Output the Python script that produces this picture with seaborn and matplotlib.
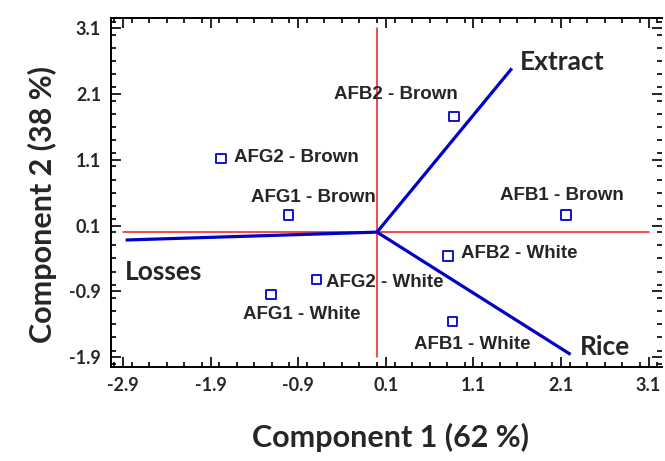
import numpy as np
import pandas as pd
import seaborn as sns
import matplotlib.pyplot as plt
from matplotlib.ticker import MultipleLocator, FormatStrFormatter

# scores of the samples
samples = ['AFB2 - Brown', 'AFG2 - Brown', 'AFG1 - Brown', 'AFB1 - Brown',
           'AFB2 - White', 'AFG2 - White', 'AFG1 - White', 'AFB1 - White']
comp1 = [0.88, -1.78, -1.01, 2.16, 0.81, -0.69, -1.21, 0.86]
comp2 = [1.76, 1.12, 0.26, 0.26, -0.36, -0.72, -0.95, -1.36]

# loadings of the variables
variables = ['Extract', 'Rice', 'Losses']
load1 = [1.54, 2.21, -2.87]
load2 = [2.49, -1.86, -0.12]

xticks = [-2.9, -1.9, -0.9, 0.1, 1.1, 2.1, 3.1]
yticks = [-1.9, -0.9, 0.1, 1.1, 2.1, 3.1]

# label offsets (pixels) and alignment
sample_offsets = [(-58, 22, 'center'), (13, 1, 'left'), (25, 18, 'center'),
                  (-4, 20, 'center'), (13, 2, 'left'), (9, -3, 'left'),
                  (31, -20, 'center'), (20, -23, 'center')]
var_offsets = [(8, 6, 'left'), (9, 7, 'left'), (-1, -32, 'left')]

blue = '#0000C8'
red = '#F01818'

sns.set_style('ticks')
plt.rcParams['font.family'] = ['Lato', 'DejaVu Sans']

df = pd.DataFrame({'sample': samples, 'c1': comp1, 'c2': comp2})

fig = plt.figure(figsize=(6.65, 4.61), dpi=100)
ax = fig.add_axes([0.1665, 0.204, 0.8285, 0.7576])

# reference axes through the origin
ax.plot([xticks[0], xticks[-1]], [0, 0], color=red, lw=1.1, zorder=1)
ax.plot([0, 0], [yticks[0], yticks[-1]], color=red, lw=1.1, zorder=1)

# variable vectors
for vx, vy in zip(load1, load2):
    ax.plot([0, vx], [0, vy], color=blue, lw=2.3, zorder=2,
            solid_capstyle='butt')

sns.scatterplot(data=df, x='c1', y='c2', marker='s', s=48,
                facecolors='none', edgecolor=blue, linewidth=1.3,
                ax=ax, zorder=3)

for name, x, y, (dx, dy, ha) in zip(samples, comp1, comp2, sample_offsets):
    ax.annotate(name, (x, y), xytext=(dx, dy), textcoords='offset pixels',
                ha=ha, va='center', fontsize=13.5, fontweight='bold',
                family='Liberation Sans')

for name, x, y, (dx, dy, ha) in zip(variables, load1, load2, var_offsets):
    ax.annotate(name, (x, y), xytext=(dx, dy), textcoords='offset pixels',
                ha=ha, va='center', fontsize=19, fontweight='bold')

ax.set_xlim(-3.04, 3.25)
ax.set_ylim(-2.05, 3.26)
ax.set_xticks(xticks)
ax.set_yticks(yticks)
ax.xaxis.set_minor_locator(MultipleLocator(0.2))
ax.yaxis.set_minor_locator(MultipleLocator(0.2))
ax.xaxis.set_major_formatter(FormatStrFormatter('%.1f'))
ax.yaxis.set_major_formatter(FormatStrFormatter('%.1f'))
ax.tick_params(which='both', direction='in', top=True, right=True,
               width=1.2, color='black')
ax.tick_params(which='major', length=7, labelsize=13, pad=7)
ax.tick_params(which='minor', length=3.5)
for lab in ax.get_xticklabels() + ax.get_yticklabels():
    lab.set_fontweight('bold')

for side in ['left', 'bottom', 'top']:
    ax.spines[side].set_linewidth(1.4)
    ax.spines[side].set_color('black')
ax.spines['right'].set_visible(False)

ax.set_xlabel('Component 1 (62 %)', fontsize=22, fontweight='bold')
ax.set_ylabel('Component 2 (38 %)', fontsize=22, fontweight='bold')
ax.xaxis.set_label_coords(0.507, -0.16)
ax.yaxis.set_label_coords(-0.098, 0.465)

fig.savefig('out.png', dpi=100)
